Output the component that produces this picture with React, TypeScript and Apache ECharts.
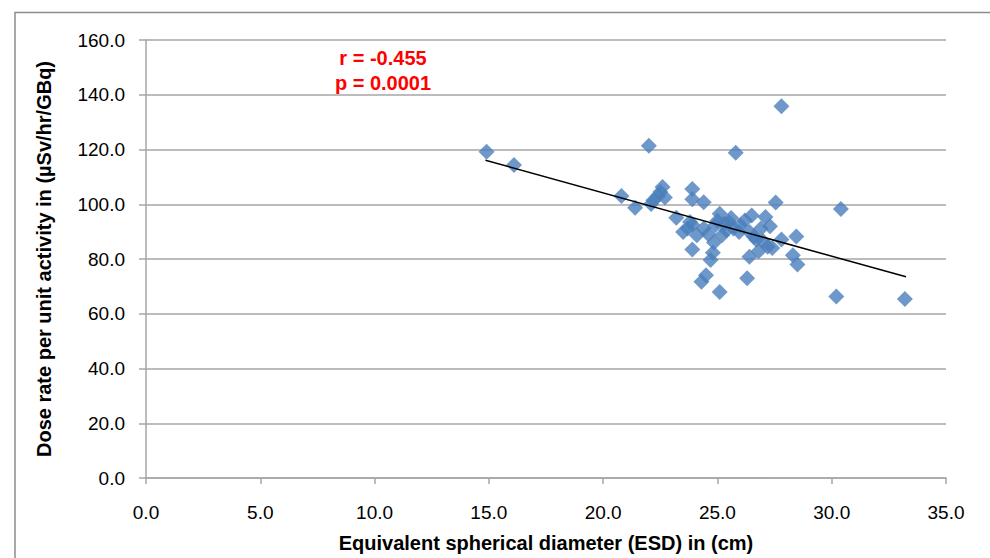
import React, { useEffect, useRef } from "react";
import * as echarts from "echarts";

const esd: number[] = [
  14.9, 16.1, 20.8, 21.4, 22.0, 22.1, 22.2, 22.4, 22.6, 22.7, 22.5, 23.2, 23.5, 23.7, 23.8, 23.9,
  23.9, 23.9, 23.9, 24.1, 24.4, 24.4, 24.5, 24.3, 24.7, 24.8, 24.85, 24.9, 25.1, 25.0, 25.1, 25.2,
  25.3, 25.5, 25.6, 25.7, 25.8, 26.0, 25.95, 26.2, 26.3, 26.4, 26.4, 26.5, 26.6, 26.8, 26.9, 27.0,
  27.1, 27.2, 27.3, 27.55, 27.8, 27.8, 28.3, 28.45, 28.5, 30.2, 30.4, 33.2, 25.4, 24.6, 26.7, 27.4,
];
const doseRate: number[] = [
  119.2, 114.3, 103.0, 98.7, 121.4, 100.1, 101.5, 103.0, 106.3, 102.5, 104.5, 95.1, 89.9, 91.1, 93.5, 105.6,
  101.8, 92.5, 83.5, 88.7, 100.7, 91.1, 74.1, 71.7, 79.6, 82.3, 86.0, 92.3, 96.5, 94.0, 67.9, 88.7,
  92.9, 93.5, 95.0, 91.1, 118.8, 92.3, 89.9, 94.1, 73.0, 80.8, 89.9, 95.9, 88.1, 82.8, 91.1, 86.5,
  95.3, 84.5, 92.0, 100.6, 87.1, 135.8, 81.4, 88.2, 78.0, 66.3, 98.3, 65.4, 90.5, 89.0, 87.0, 84.0,
];
const trendX: number[] = [14.85, 33.25];
const trendY: number[] = [116.1, 73.5];
const statLines: string[] = ["r = -0.455", "p = 0.0001"];
const xTitle = "Equivalent spherical diameter (ESD) in (cm)";
const yTitle = "Dose rate per unit activity in (µSv/hr/GBq)";

export default function App() {
  const ref = useRef<HTMLDivElement>(null);
  useEffect(() => {
    document.body.style.margin = "0";
    document.body.style.overflow = "hidden";
    document.documentElement.style.overflow = "hidden";
    const chart = echarts.init(ref.current!, undefined, { renderer: "svg" });
    const font = "'Liberation Sans', Arial, sans-serif";
    const gridColor = "#a6a6a6";
    chart.setOption({
      animation: false,
      backgroundColor: "#ffffff",
      grid: { left: 146, right: 44, top: 40, bottom: 76, containLabel: false },
      xAxis: {
        type: "value",
        min: 0,
        max: 35,
        interval: 5,
        name: xTitle,
        nameLocation: "middle",
        nameGap: 55,
        nameTextStyle: { fontFamily: font, fontSize: 20, fontWeight: "bold", color: "#000" },
        axisLine: { show: true, onZero: false, lineStyle: { color: gridColor, width: 1.5 } },
        axisTick: { show: true, length: 6, lineStyle: { color: gridColor, width: 1.5 } },
        axisLabel: {
          fontFamily: font,
          fontSize: 19,
          color: "#000",
          margin: 25,
          formatter: (v: number) => v.toFixed(1),
        },
        splitLine: { show: false },
      },
      yAxis: {
        type: "value",
        min: 0,
        max: 160,
        interval: 20,
        name: yTitle,
        nameLocation: "middle",
        nameGap: 92,
        nameTextStyle: { fontFamily: font, fontSize: 20, fontWeight: "bold", color: "#000" },
        axisLine: { show: true, lineStyle: { color: gridColor, width: 1.5 } },
        axisTick: { show: true, length: 7, lineStyle: { color: gridColor, width: 1.5 } },
        axisLabel: {
          fontFamily: font,
          fontSize: 19,
          color: "#000",
          margin: 21,
          formatter: (v: number) => v.toFixed(1),
        },
        splitLine: { show: true, lineStyle: { color: gridColor, width: 1.5 } },
      },
      graphic: [
        {
          type: "rect",
          shape: { x: 15, y: 12.5, width: 1000, height: 700 },
          style: { fill: "none", stroke: "#8c8c8c", lineWidth: 1.5 },
          silent: true,
          z: -10,
        },
        {
          type: "text",
          x: 383,
          y: 58,
          style: {
            text: statLines[0],
            fill: "#ff0000",
            font: `bold 20px ${font}`,
            textAlign: "center",
            textVerticalAlign: "middle",
          },
        },
        {
          type: "text",
          x: 383,
          y: 83,
          style: {
            text: statLines[1],
            fill: "#ff0000",
            font: `bold 20px ${font}`,
            textAlign: "center",
            textVerticalAlign: "middle",
          },
        },
      ],
      series: [
        {
          type: "scatter",
          data: esd.map((x, i) => [x, doseRate[i]]),
          symbol: "diamond",
          symbolSize: 16,
          itemStyle: { color: "#4A7EBB" },
          z: 2,
        },
        {
          type: "line",
          data: trendX.map((x, i) => [x, trendY[i]]),
          symbol: "none",
          lineStyle: { color: "#000", width: 1.5 },
          z: 3,
        },
      ],
    });
    return () => chart.dispose();
  }, []);
  return (
    <div
      ref={ref}
      style={{ position: "fixed", left: 0, top: 0, width: 990, height: 558, overflow: "hidden" }}
    />
  );
}
